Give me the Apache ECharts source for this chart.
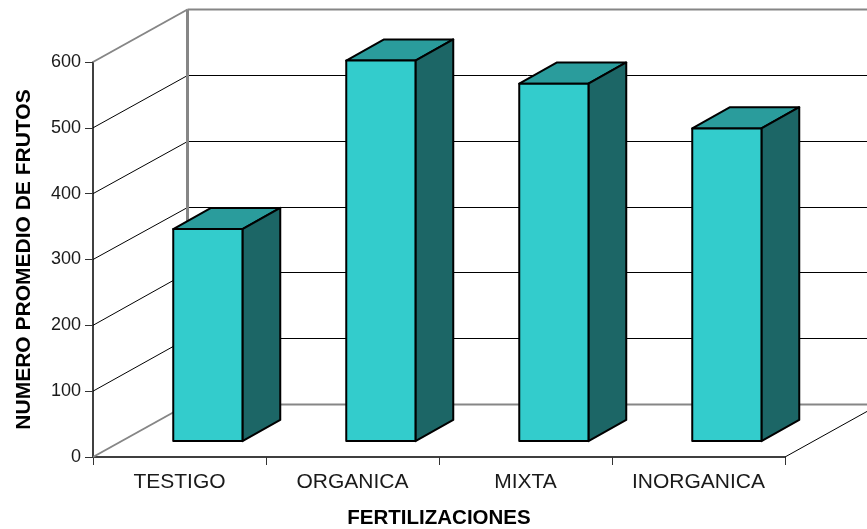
<!DOCTYPE html>
<html>
<head>
<meta charset="utf-8">
<style>html,body{margin:0;padding:0;background:#fff}#chart{width:867px;height:529px}</style>
<script src="https://cdn.jsdelivr.net/npm/echarts@6/dist/echarts.min.js"></script>
</head>
<body>
<div id="chart"></div>
<script>
// Mean fruit count per fertilisation treatment
const categories = ['TESTIGO', 'ORGANICA', 'MIXTA', 'INORGANICA'];
const frutos = [322, 578, 543, 475];
const yTicks = [0, 100, 200, 300, 400, 500, 600];
const xTitle = 'FERTILIZACIONES';
const yTitle = 'NUMERO PROMEDIO DE FRUTOS';

// Oblique projection: full depth of the chart box and the slice taken by a bar
const DEPTH = [94.5, -53];
const BAR_START = 0.3;
const BAR_END = 0.7;
const BAR_WIDTH = 0.4;

const GREY = '#868686';
const INK = '#000000';
const TEXT = '#1a1a1a';

function line(x1, y1, x2, y2, stroke, lineWidth) {
  return { type: 'line', shape: { x1, y1, x2, y2 }, style: { stroke, lineWidth, fill: null } };
}

// Snap a horizontal or vertical rule to the pixel grid so thin lines stay crisp
const crisp = v => Math.round(v) + 0.5;

// Side wall and back wall rules for one value tick
function renderWalls(params, api) {
  const value = api.value(0);
  const band = api.size([1, 0])[0];
  const first = api.coord([0, value]);
  const last = api.coord([categories.length - 1, value]);
  const left = first[0] - band / 2;
  const right = last[0] + band / 2;
  const y = first[1];
  const backY = crisp(y + DEPTH[1]);
  const backX = left + DEPTH[0];
  const isEdge = value === yTicks[0] || value === yTicks[yTicks.length - 1];
  const stroke = isEdge ? GREY : INK;
  const width = isEdge ? 2 : 1;
  const children = [
    line(left, y, backX, backY, stroke, width),
    line(backX, backY, right + DEPTH[0], backY, stroke, width)
  ];
  if (value === yTicks[0]) {
    // Right edge of the floor
    children.push(line(right, y, right + DEPTH[0], backY, INK, 1));
  }
  if (value === yTicks[yTicks.length - 1]) {
    // Vertical seam between the side wall and the back wall
    const base = api.coord([0, yTicks[0]])[1];
    children.push(line(backX, backY, backX, base + DEPTH[1], GREY, 3));
  }
  return { type: 'group', children };
}

// Extruded bar: front, top and side faces
function renderBar(params, api) {
  const idx = api.value(0);
  const value = api.value(1);
  const band = api.size([1, 0])[0];
  const top = api.coord([idx, value]);
  const base = api.coord([idx, 0]);
  const half = band * BAR_WIDTH / 2;
  const fx = DEPTH[0] * BAR_START, fy = DEPTH[1] * BAR_START;
  const bx = DEPTH[0] * BAR_END, by = DEPTH[1] * BAR_END;
  const x0 = top[0] - half, x1 = top[0] + half;
  const border = { stroke: INK, lineWidth: 2, lineJoin: 'round' };
  const face = (points, fill) => ({
    type: 'polygon',
    shape: { points },
    style: Object.assign({ fill }, border)
  });
  return {
    type: 'group',
    children: [
      face([[x0 + fx, top[1] + fy], [x1 + fx, top[1] + fy], [x1 + bx, top[1] + by], [x0 + bx, top[1] + by]], '#2A9C9C'),
      face([[x1 + fx, top[1] + fy], [x1 + bx, top[1] + by], [x1 + bx, base[1] + by], [x1 + fx, base[1] + fy]], '#1C6666'),
      face([[x0 + fx, top[1] + fy], [x1 + fx, top[1] + fy], [x1 + fx, base[1] + fy], [x0 + fx, base[1] + fy]], '#33CCCC')
    ]
  };
}

const chart = echarts.init(document.getElementById('chart'), null, { renderer: 'canvas' });
chart.setOption({
  animation: false,
  backgroundColor: '#ffffff',
  grid: { left: 93, top: 62, width: 692, height: 395, containLabel: false, outerBoundsMode: 'none' },
  xAxis: {
    type: 'category',
    data: categories,
    name: xTitle,
    nameLocation: 'middle',
    nameGap: 51,
    nameMoveOverlap: false,
    nameTextStyle: { fontFamily: 'Liberation Sans', fontWeight: 'bold', fontSize: 20.5, color: INK },
    axisLine: { lineStyle: { color: INK, width: 1.5 } },
    axisTick: { show: true, length: 8, alignWithLabel: false, lineStyle: { color: '#333', width: 1 } },
    axisLabel: { fontFamily: 'Liberation Sans', fontSize: 21, color: TEXT, margin: 15 },
    splitLine: { show: false }
  },
  yAxis: {
    type: 'value',
    min: yTicks[0],
    max: yTicks[yTicks.length - 1],
    interval: yTicks[1] - yTicks[0],
    name: yTitle,
    nameLocation: 'middle',
    nameGap: 58,
    nameMoveOverlap: false,
    nameTextStyle: { fontFamily: 'Liberation Sans', fontWeight: 'bold', fontSize: 21, color: INK },
    axisLine: { show: true, lineStyle: { color: INK, width: 1.5 } },
    axisTick: { show: true, length: 8, lineStyle: { color: '#333', width: 1 } },
    axisLabel: { fontFamily: 'Liberation Sans', fontSize: 18, color: TEXT, margin: 12 },
    splitLine: { show: false }
  },
  series: [
    {
      type: 'custom',
      coordinateSystem: 'cartesian2d',
      renderItem: renderWalls,
      clip: false,
      silent: true,
      z: 1,
      encode: { y: 0 },
      data: yTicks.map(v => [v])
    },
    {
      type: 'custom',
      coordinateSystem: 'cartesian2d',
      renderItem: renderBar,
      clip: false,
      z: 3,
      encode: { x: 0, y: 1 },
      data: frutos.map((v, i) => [i, v])
    }
  ]
});
</script>
</body>
</html>
